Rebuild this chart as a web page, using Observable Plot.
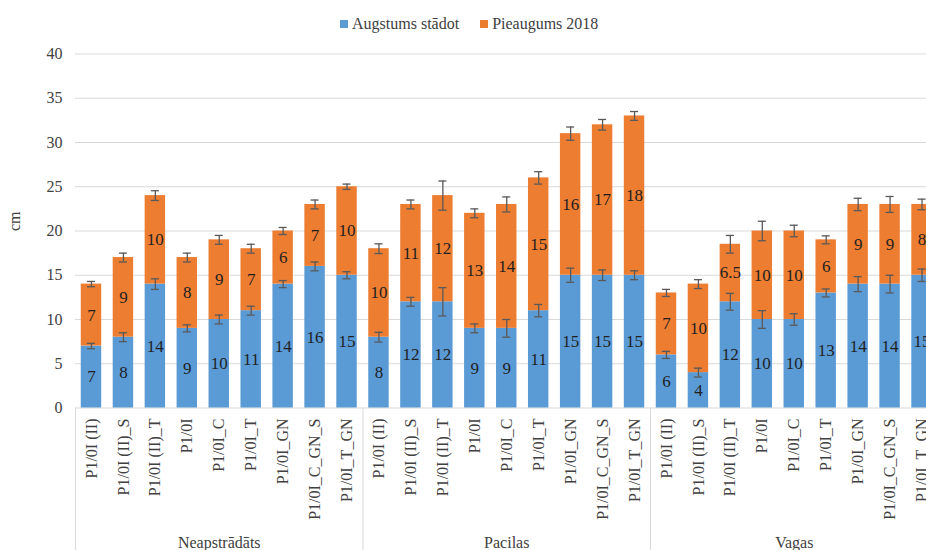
<!DOCTYPE html>
<html><head><meta charset="utf-8">
<script src="https://cdn.jsdelivr.net/npm/d3@7"></script>
<script src="https://cdn.jsdelivr.net/npm/@observablehq/plot@0.6"></script>
<style>
html,body{margin:0;padding:0;background:#fff;overflow:hidden;}
body{font-family:"Liberation Serif",Tinos,"Times New Roman",Times,"DejaVu Serif",serif;}
#legend{height:36px;box-sizing:border-box;padding-left:340px;padding-top:12px;display:flex;align-items:center;font-size:16px;color:#404040;white-space:nowrap;}
#legend .item{display:flex;align-items:center;height:20px;}
#legend .sw{width:8px;height:8px;margin-right:4px;}
#legend .item + .item{margin-left:21px;}
svg text{font-family:"Liberation Serif",Tinos,"Times New Roman",Times,"DejaVu Serif",serif;}
</style></head><body>
<div id="legend"></div>
<div id="chart"></div>
<script>
const groups = ["Neapstrādāts", "Pacilas", "Vagas"];
const treatments = ["P1/0I (II)", "P1/0I (II)_S", "P1/0I (II)_T", "P1/0I", "P1/0I_C", "P1/0I_T", "P1/0I_GN", "P1/0I_C_GN_S", "P1/0I_T_GN"];
const seriesNames = ["Augstums stādot", "Pieaugums 2018"];
const seriesColors = ["#5B9BD5", "#ED7D31"];
// Augstums stādot (blue), per group in treatment order
const augstums = [
  7, 8, 14, 9, 10, 11, 14, 16, 15,
  8, 12, 12, 9, 9, 11, 15, 15, 15,
  6, 4, 12, 10, 10, 13, 14, 14, 15
];
// Pieaugums 2018 (orange)
const pieaugums = [
  7, 9, 10, 8, 9, 7, 6, 7, 10,
  10, 11, 12, 13, 14, 15, 16, 17, 18,
  7, 10, 6.5, 10, 10, 6, 9, 9, 8
];
// error bar half-lengths
const errAugstums = [
  0.3, 0.5, 0.6, 0.4, 0.5, 0.5, 0.4, 0.5, 0.4,
  0.55, 0.5, 1.6, 0.5, 1.0, 0.7, 0.8, 0.6, 0.5,
  0.4, 0.5, 0.95, 1.0, 0.65, 0.45, 0.85, 1.0, 0.7
];
const errPieaugums = [
  0.3, 0.5, 0.55, 0.5, 0.5, 0.5, 0.4, 0.5, 0.3,
  0.55, 0.5, 1.65, 0.5, 0.85, 0.7, 0.75, 0.6, 0.5,
  0.4, 0.5, 1.0, 1.1, 0.65, 0.45, 0.7, 0.9, 0.6
];
const yTicks = [0, 5, 10, 15, 20, 25, 30, 35, 40];

// legend
const legend = document.getElementById("legend");
seriesNames.forEach((n, i) => {
  const it = document.createElement("div"); it.className = "item";
  const sw = document.createElement("div"); sw.className = "sw"; sw.style.background = seriesColors[i];
  const tx = document.createElement("span"); tx.textContent = n;
  it.appendChild(sw); it.appendChild(tx); legend.appendChild(it);
});

const keys = groups.flatMap(g => treatments.map(t => g + "|" + t));
const rows = keys.map((k, i) => ({
  key: k, group: k.split("|")[0], treatment: k.split("|")[1],
  a: augstums[i], p: pieaugums[i], total: augstums[i] + pieaugums[i],
  ea: errAugstums[i], ep: errPieaugums[i]
}));
const firstKeys = groups.map(g => g + "|" + treatments[0]);
const midKeys = groups.map(g => g + "|" + treatments[4]);

const W = 926, H = 514, mT = 17.5, mB = 142.5, mL = 75;
const xRange = [mL, 937.5];
const step = (xRange[1] - xRange[0]) / keys.length;
const errColor = "#595959";
const serif = "'Liberation Serif', Tinos, 'Times New Roman', Times, 'DejaVu Serif', serif";

const chart = Plot.plot({
  width: W, height: H, marginTop: mT, marginBottom: mB, marginLeft: mL, marginRight: 0,
  style: {fontFamily: serif, fontSize: "16px", color: "#404040", background: "white", overflow: "hidden"},
  x: {domain: keys, range: xRange, round: false, paddingInner: 0.36, paddingOuter: 0.18, axis: null},
  y: {domain: [0, 40], axis: null},
  marks: [
    Plot.gridY(yTicks.filter(d => d > 0), {stroke: "#d9d9d9", strokeOpacity: 1}),
    Plot.ruleY([0], {stroke: "#d9d9d9"}),
    Plot.axisY({ticks: yTicks, tickSize: 0, tickPadding: 13, fontSize: 16, fill: "#404040", label: null}),
    Plot.text(["cm"], {frameAnchor: "left", dx: -61, rotate: -90, fontSize: 16, fill: "#404040"}),
    Plot.barY(rows, {x: "key", y1: 0, y2: "a", fill: seriesColors[0]}),
    Plot.barY(rows, {x: "key", y1: "a", y2: "total", fill: seriesColors[1]}),
    // error bars
    Plot.ruleX(rows, {x: "key", y1: d => d.a - d.ea, y2: d => d.a + d.ea, stroke: errColor, strokeWidth: 1.3}),
    Plot.tickY(rows, {x: "key", y: d => d.a - d.ea, insetLeft: 6.2, insetRight: 6.2, stroke: errColor, strokeWidth: 1.3}),
    Plot.tickY(rows, {x: "key", y: d => d.a + d.ea, insetLeft: 6.2, insetRight: 6.2, stroke: errColor, strokeWidth: 1.3}),
    Plot.ruleX(rows, {x: "key", y1: d => d.total - d.ep, y2: d => d.total + d.ep, stroke: errColor, strokeWidth: 1.3}),
    Plot.tickY(rows, {x: "key", y: d => d.total - d.ep, insetLeft: 6.2, insetRight: 6.2, stroke: errColor, strokeWidth: 1.3}),
    Plot.tickY(rows, {x: "key", y: d => d.total + d.ep, insetLeft: 6.2, insetRight: 6.2, stroke: errColor, strokeWidth: 1.3}),
    // data labels
    Plot.text(rows, {x: "key", y: d => d.a / 2, text: d => String(d.a), fontSize: 17, fill: "#1f1f1f"}),
    Plot.text(rows, {x: "key", y: d => d.a + d.p / 2, text: d => String(d.p), fontSize: 17, fill: "#1f1f1f"}),
    // category labels
    Plot.text(rows, {x: "key", y: 0, text: "treatment", rotate: -90, textAnchor: "end", lineAnchor: "middle", dy: 10.5, fontSize: 16, fill: "#404040"}),
    // group separators
    Plot.ruleX(firstKeys, {x: d => d, dx: -step / 2, insetTop: H - mB - mT, insetBottom: -mB, stroke: "#d9d9d9"}),
    // group labels
    Plot.text(midKeys, {x: d => d, text: d => d.split("|")[0], frameAnchor: "bottom", lineAnchor: "middle", dy: 135, fontSize: 16, fill: "#404040"})
  ]
});
document.getElementById("chart").appendChild(chart);
</script>
</body></html>
